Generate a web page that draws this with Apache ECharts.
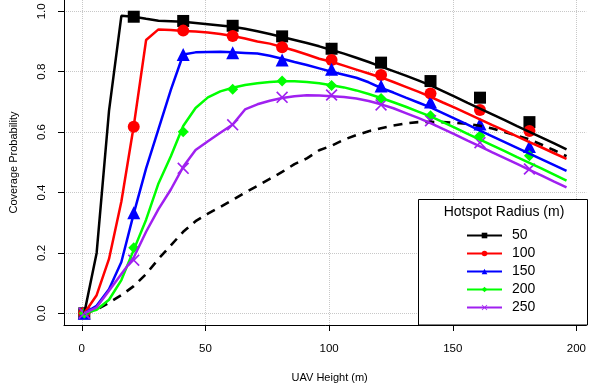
<!DOCTYPE html>
<html><head><meta charset="utf-8">
<script src="https://cdn.jsdelivr.net/npm/echarts@6/dist/echarts.min.js"></script>
<style>html,body{margin:0;padding:0;background:#fff}#c{width:589px;height:391px}</style>
</head><body><div id="c"></div>
<script>
// UAV heights (m) for analytical curves
const heights = [1,6,11,16,21,26,31,36,41,46,51,56,61,66,71,76,81,86,91,96,101,106,111,116,121,126,131,136,141,146,151,156,161,166,171,176,181,186,191,196];
// Analytical coverage probability
const analysis50  = [0,0.20,0.67,0.985,0.982,0.975,0.969,0.967,0.965,0.961,0.957,0.953,0.949,0.942,0.934,0.925,0.915,0.905,0.895,0.884,0.872,0.860,0.846,0.832,0.817,0.802,0.787,0.771,0.755,0.736,0.717,0.697,0.678,0.659,0.640,0.620,0.601,0.582,0.563,0.543];
const analysis100 = [0,0.06,0.18,0.37,0.62,0.905,0.940,0.938,0.935,0.933,0.930,0.925,0.918,0.910,0.900,0.893,0.882,0.870,0.857,0.843,0.833,0.820,0.807,0.794,0.781,0.766,0.750,0.734,0.717,0.698,0.680,0.661,0.642,0.623,0.605,0.586,0.567,0.549,0.530,0.511];
const analysis150 = [0,0.025,0.08,0.17,0.33,0.48,0.61,0.74,0.857,0.864,0.865,0.866,0.864,0.862,0.860,0.853,0.843,0.832,0.822,0.811,0.800,0.790,0.780,0.765,0.746,0.731,0.714,0.698,0.682,0.663,0.644,0.625,0.605,0.586,0.567,0.548,0.529,0.510,0.491,0.472];
const analysis200 = [0,0.012,0.045,0.11,0.21,0.31,0.43,0.52,0.62,0.68,0.715,0.735,0.747,0.756,0.762,0.766,0.768,0.768,0.766,0.762,0.755,0.748,0.738,0.726,0.713,0.699,0.684,0.668,0.652,0.633,0.614,0.594,0.575,0.556,0.537,0.517,0.498,0.479,0.459,0.439];
const analysis250 = [0,0.02,0.075,0.13,0.185,0.27,0.345,0.41,0.485,0.541,0.570,0.598,0.625,0.675,0.692,0.704,0.713,0.719,0.722,0.721,0.719,0.716,0.711,0.703,0.692,0.679,0.663,0.647,0.630,0.611,0.592,0.572,0.553,0.533,0.514,0.495,0.475,0.456,0.436,0.417];
const dashedCurve = [0,0.012,0.035,0.06,0.09,0.13,0.18,0.225,0.27,0.305,0.33,0.352,0.375,0.40,0.422,0.445,0.468,0.494,0.513,0.54,0.555,0.575,0.59,0.603,0.613,0.622,0.629,0.633,0.634,0.633,0.631,0.627,0.621,0.612,0.600,0.588,0.576,0.558,0.540,0.520];
// Simulation points
const simHeights = [1,21,41,61,81,101,121,141,161,181];
const sim50  = [0,0.982,0.968,0.952,0.917,0.876,0.830,0.769,0.714,0.633];
const sim100 = [0,0.618,0.936,0.918,0.881,0.839,0.789,0.728,0.673,0.604];
const sim150 = [0,0.333,0.857,0.863,0.839,0.808,0.753,0.700,0.627,0.552];
const sim200 = [0,0.217,0.601,0.742,0.769,0.754,0.711,0.654,0.588,0.522];
const sim250 = [0,0.176,0.480,0.624,0.715,0.723,0.690,0.638,0.565,0.478];
// Legend / ticks
const radiusNames = ['50','100','150','200','250'];
const xTicks = [0,50,100,150,200];
const yTicks = [0,0.2,0.4,0.6,0.8,1.0];

const xPath = 'path://M1,0 L5,4 L9,0 L10,1 L6,5 L10,9 L9,10 L5,6 L1,10 L0,9 L4,5 L0,1 Z';
const groups = [
  {name: radiusNames[0], color:'#000000', symbol:'rect', size:12, line:analysis50, sim:sim50},
  {name: radiusNames[1], color:'#ff0000', symbol:'circle', size:12, line:analysis100, sim:sim100},
  {name: radiusNames[2], color:'#0000ff', symbol:'triangle', size:13, line:analysis150, sim:sim150},
  {name: radiusNames[3], color:'#00ff00', symbol:'diamond', size:11, line:analysis200, sim:sim200},
  {name: radiusNames[4], color:'#a020f0', symbol:xPath, size:12, line:analysis250, sim:sim250}
];
const pair = (xs, ys) => xs.map((x,i)=>[x, ys[i]]);

const series = [{
  name:'baseline', type:'line', data: pair(heights, dashedCurve), showSymbol:false, symbol:'none',
  lineStyle:{color:'#000', width:2.6, type:[9,7]}, itemStyle:{color:'#000'}, silent:true
}];
groups.forEach(g => {
  series.push({
    name:g.name, type:'line', data: pair(heights, g.line), symbol:g.symbol, showSymbol:false,
    lineStyle:{color:g.color, width:2.5}, itemStyle:{color:g.color}, silent:true
  });
  series.push({
    name:g.name+' sim', type:'scatter', data: pair(simHeights, g.sim), symbol:g.symbol, symbolSize:g.size,
    itemStyle:{color:g.color, opacity:1}, silent:true
  });
});

const font = 'Liberation Sans, Arial, Helvetica, sans-serif';
const chart = echarts.init(document.getElementById('c'), null, {renderer:'canvas'});
chart.setOption({
  animation:false,
  backgroundColor:'#fff',
  grid:{left:63, right:0, top:0, bottom:66},
  xAxis:{
    type:'value', min:-7.2, max:204,
    name:'UAV Height (m)', nameLocation:'middle', nameGap:47,
    nameTextStyle:{fontFamily:font, fontSize:11, color:'#000', padding:[0,0,0,9]},
    axisLine:{show:true, onZero:false, lineStyle:{color:'#000', width:1}},
    axisTick:{show:true, length:6, customValues:xTicks, lineStyle:{color:'#000'}},
    axisLabel:{customValues:xTicks, fontFamily:font, fontSize:11.5, color:'#000', margin:17.5},
    splitLine:{show:true, lineStyle:{type:'dotted', color:'#c8c8c8', width:1}}
  },
  yAxis:{
    type:'value', min:-0.0387, max:1.0374,
    name:'Coverage Probability', nameLocation:'middle', nameGap:45,
    nameTextStyle:{fontFamily:font, fontSize:11, color:'#000'},
    axisLine:{show:true, onZero:false, lineStyle:{color:'#000', width:1}},
    axisTick:{show:true, length:6, customValues:yTicks, lineStyle:{color:'#000'}},
    axisLabel:{customValues:yTicks, rotate:90, fontFamily:font, fontSize:11.5, color:'#000', margin:16,
      formatter: v => v.toFixed(1)},
    splitLine:{show:true, lineStyle:{type:'dotted', color:'#c8c8c8', width:1}}
  },
  legend:{
    data: radiusNames, orient:'vertical', left:461, top:223.5, itemWidth:35, itemHeight:7, itemGap:4,
    selectedMode:false, z:10,
    textStyle:{fontFamily:font, fontSize:14, color:'#000', lineHeight:14, padding:[0,0,0,5]}
  },
  graphic:[
    {type:'rect', z:5, shape:{x:418.5, y:199.5, width:169, height:125.5}, style:{fill:'#fff', stroke:'#000', lineWidth:1}},
    {type:'text', z:6, x:504, y:212, style:{text:'Hotspot Radius (m)', font:'14px ' + font, fill:'#000', textAlign:'center', textVerticalAlign:'middle'}}
  ],
  series: series
});
</script>
</body></html>
